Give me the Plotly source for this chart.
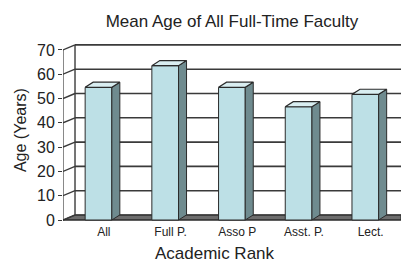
import plotly.graph_objects as go

# ---- data ----
categories = ["All", "Full P.", "Asso P", "Asst. P.", "Lect."]
mean_age = [54.6, 63.5, 54.6, 46.6, 51.7]
y_ticks = [0, 10, 20, 30, 40, 50, 60, 70]

# ---- style / geometry ----
FRONT = "#bde0e6"
SIDE = "#6f8b8f"
TOP = "#d9eef1"
EDGE = "#2b2b2b"
GRID = "#3a3a3a"
FLOOR = "#6d6d6d"
FONT = "Liberation Sans, Arial, sans-serif"

X0, X1 = -0.532, 4.535        # x range (category units)
Y0, Y1 = -1.23, 73.25         # y range (value units)
HW = 0.2                      # half bar width
BDX, BDY = 0.12, 2.1          # bar depth offset
WDX, WDY = 0.18, 2.06         # wall depth offset

fig = go.Figure()
shapes = []

# floor band
shapes.append(dict(type="path", layer="below",
                   path=f"M {X0},0 L {X1},0 L {X1},{WDY} L {X0+WDX},{WDY} Z",
                   fillcolor=FLOOR, line=dict(color=EDGE, width=1)))
# back wall + side wall grid lines
for v in y_ticks:
    shapes.append(dict(type="line", layer="below", x0=X0 + WDX, x1=X1,
                       y0=v + WDY, y1=v + WDY, line=dict(color=GRID, width=1.6)))
    shapes.append(dict(type="line", layer="below", x0=X0, x1=X0 + WDX,
                       y0=v, y1=v + WDY, line=dict(color=GRID, width=1.4)))
# wall vertical edges
shapes.append(dict(type="line", layer="below", x0=X0 + WDX, x1=X0 + WDX,
                   y0=WDY, y1=max(y_ticks) + WDY, line=dict(color=GRID, width=1.4)))
shapes.append(dict(type="line", layer="below", x0=X0, x1=X0,
                   y0=0, y1=max(y_ticks), line=dict(color=GRID, width=1.2)))
# front floor edge
shapes.append(dict(type="line", layer="below", x0=X0, x1=X1, y0=0, y1=0,
                   line=dict(color=EDGE, width=1.2)))

# front faces
xs = list(range(len(categories)))
fig.add_trace(go.Bar(x=xs, y=mean_age, width=2 * HW,
                     marker=dict(color=FRONT, line=dict(color=EDGE, width=1)),
                     hoverinfo="skip", showlegend=False))

# side and top faces
for i, v in enumerate(mean_age):
    xr = i + HW
    fig.add_trace(go.Scatter(
        x=[xr, xr + BDX, xr + BDX, xr, xr], y=[0, BDY, v + BDY, v, 0],
        fill="toself", fillcolor=SIDE, mode="lines",
        line=dict(color=EDGE, width=1), hoverinfo="skip", showlegend=False))
    xl = i - HW
    fig.add_trace(go.Scatter(
        x=[xl, xr, xr + BDX, xl + BDX, xl], y=[v, v, v + BDY, v + BDY, v],
        fill="toself", fillcolor=TOP, mode="lines",
        line=dict(color=EDGE, width=1.2), hoverinfo="skip", showlegend=False))

fig.update_layout(
    width=401, height=265,
    margin=dict(l=63, r=0, t=42, b=42),
    paper_bgcolor="white", plot_bgcolor="white",
    font=dict(family=FONT, color="#222"),
    shapes=shapes,
    title=dict(text="Mean Age of All Full-Time Faculty", x=0.5, xanchor="center",
               xref="paper", y=1 - 21 / 265, yanchor="middle", yref="container",
               font=dict(size=17, color="#222", family=FONT)),
    xaxis=dict(range=[X0, X1], tickvals=[i + 0.08 for i in xs], ticktext=categories,
               showgrid=False, zeroline=False, showline=False, ticks="",
               tickfont=dict(size=12, color="#222")),
    yaxis=dict(range=[Y0, Y1], tickvals=y_ticks, showgrid=False, zeroline=False,
               showline=False, ticks="outside", ticklen=4, tickwidth=1.4, tickcolor=GRID,
               tickfont=dict(size=16, color="#222")),
    annotations=[
        dict(text="Academic Rank", xref="paper", yref="paper", x=0.45, y=-0.171,
             xanchor="center", yanchor="middle", showarrow=False,
             font=dict(size=17, color="#222")),
        dict(text="Age (Years)", xref="paper", yref="paper", x=-0.124, y=0.514,
             xanchor="center", yanchor="middle", textangle=-90, showarrow=False,
             font=dict(size=16, color="#222")),
    ],
)

fig.write_html("out.html", config={"displayModeBar": False},
               post_script="document.body.style.margin='0';")
